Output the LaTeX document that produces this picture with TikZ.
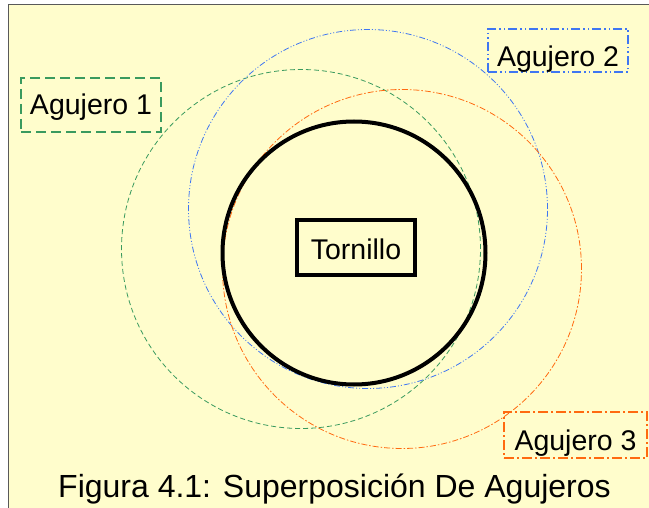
\documentclass[tikz,border=0pt]{standalone}
\usepackage{fontspec}
\setmainfont{Liberation Sans}
\usepackage{tikz}
\usetikzlibrary{positioning}
\definecolor{paper}{HTML}{FFFDCC}
\definecolor{holegreen}{HTML}{3A9A5E}
\definecolor{holeblue}{HTML}{3F76F2}
\definecolor{holeorange}{HTML}{FF6A10}
\tikzset{
    hole/.style={
           circle,
           inner sep=0pt,
           line width=0.8pt,
           minimum size=359pt,
           },
    tag/.style={
           rectangle,
           inner xsep=0pt,
           inner ysep=0pt,
           line width=1.8pt,
           text centered,
           font=\fontsize{28.5}{34}\selectfont,
           },
    greendash/.style={dash pattern=on 5pt off 3pt},
    bluedash/.style={dash pattern=on 6pt off 2pt on 1pt off 2pt on 1pt off 2pt},
    orangedash/.style={dash pattern=on 6pt off 2pt on 1.5pt off 2pt},
}

\begin{document}
\begin{tikzpicture}[x=1pt,y=-1pt]

 % page and yellow sheet
 \useasboundingbox (0,0) rectangle (649,508);
 \clip (0,0) rectangle (649,508);
 \fill[white] (0,0) rectangle (649,508);
 \draw[fill=paper,draw=black!65,line width=1pt] (8,5) rectangle (700,560);

 % the three holes
 \node[hole,draw=holegreen,greendash] (hole1) at (301,249) {};
 \node[hole,draw=holeblue,bluedash] (hole2) at (368,209) {};
 \node[hole,draw=holeorange,orangedash] (hole3) at (402,269) {};

 % the screw
 \node[circle,inner sep=0pt,draw=black,line width=4pt,
  minimum size=263pt] (screw) at (354,253) {};
 \node[tag,
  draw=black,
  line width=4pt,
  minimum width=118pt,
  text height=40pt,
  text depth=15pt] (Tornillo) at (356,247.5) {Tornillo};

 % labels of the holes
 \node[tag,draw=holegreen,dash pattern=on 10pt off 5pt,
  minimum width=140pt,text height=37pt,text depth=17pt] (Agujero1) at (91,105) {Agujero 1};
 \node[tag,draw=holeblue,dash pattern=on 9pt off 3pt on 1.5pt off 3pt on 1.5pt off 3pt,
  minimum width=140pt,text height=38pt,text depth=5pt] (Agujero2) at (558,50.5) {Agujero 2};
 \node[tag,draw=holeorange,dash pattern=on 10pt off 3pt on 2pt off 3pt,
  minimum width=143pt,text height=38pt,text depth=8pt] (Agujero3) at (575.5,435) {Agujero 3};

 % caption
 \node[anchor=base west,inner sep=0pt,font=\fontsize{32}{38}\selectfont] (caption) at (58,497)
  {Figura 4.1: Superposición De Agujeros};

\end{tikzpicture}
\end{document}
